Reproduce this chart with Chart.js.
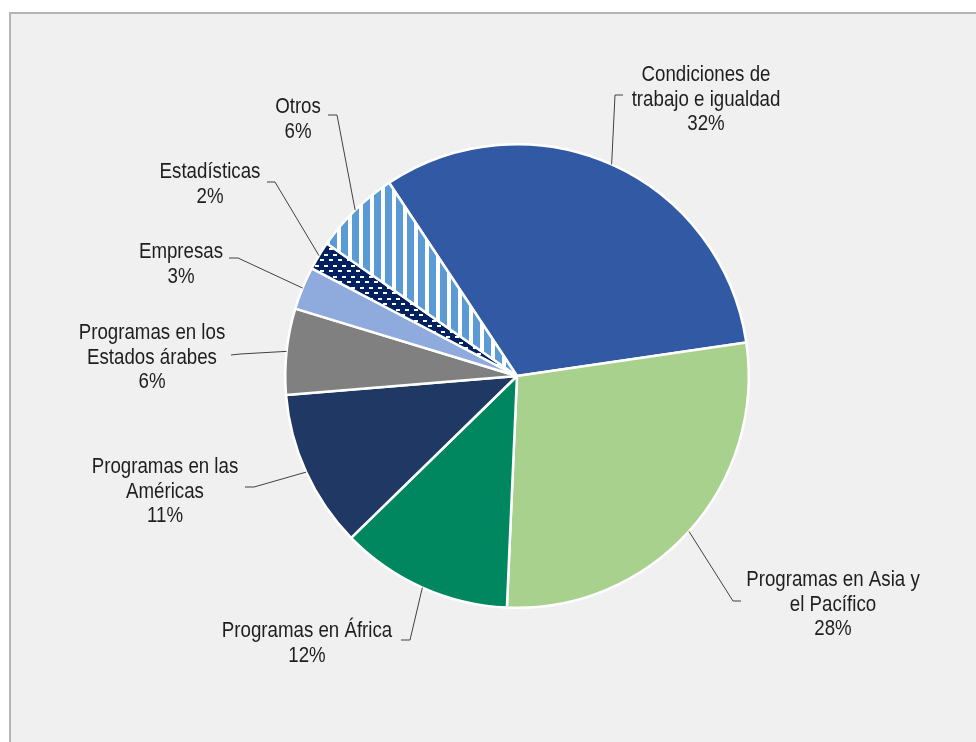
<!DOCTYPE html>
<html>
<head>
<meta charset="utf-8">
<script src="https://cdn.jsdelivr.net/npm/chart.js@4.4.1/dist/chart.umd.min.js"></script>
<style>
  html, body { margin: 0; padding: 0; background: #ffffff; overflow: hidden; }
  #marco {
    position: absolute; left: 9px; top: 12px; width: 1000px; height: 800px;
    background: #f0f0f0; border: 2px solid #b4b4b4;
  }
  #tarta { position: absolute; left: 0; top: 0; }
</style>
</head>
<body>
<div id="marco"></div>
<canvas id="tarta" width="976" height="742"></canvas>
<script>
// Distribución por área (porcentaje)
const categorias = [
  ["Condiciones de", "trabajo e igualdad"],
  ["Programas en Asia y", "el Pacífico"],
  ["Programas en África"],
  ["Programas en las", "Américas"],
  ["Programas en los", "Estados árabes"],
  ["Empresas"],
  ["Estadísticas"],
  ["Otros"],
];
const porcentajes = [32, 28, 12, 11, 6, 3, 2, 6];

const colores = ["#3259a4", "#a9d18e", "#00875f", "#1f3864", "#808080", "#8faadc", null, null];

// posición de cada etiqueta respecto al centro de la tarta: texto, codo y final de la línea guía
const etiquetas = [
  { tx: 189, ty: -301, codo: [98, -281], fin: [106, -281] },
  { tx: 316, ty: 204, codo: [216, 225], fin: [224, 225] },
  { tx: -210, ty: 255, codo: [-107, 264], fin: [-116, 264] },
  { tx: -352, ty: 91, codo: [-263, 111], fin: [-272, 111] },
  { tx: -365, ty: -43, codo: [-277, -22], fin: [-286, -21] },
  { tx: -336, ty: -124, codo: [-279, -118], fin: [-288, -118] },
  { tx: -307, ty: -204, codo: [-242, -194], fin: [-250, -194] },
  { tx: -219, ty: -269, codo: [-180, -261], fin: [-189, -261] },
];

// no hay Arial Narrow: se estrecha Liberation Sans en horizontal
const FUENTE = '22px "Liberation Sans", Arial, sans-serif';
const ESTRECHO = 0.85;

// trama de guiones blancos sobre azul marino (Estadísticas)
function tramaGuiones() {
  const c = document.createElement("canvas");
  c.width = 9; c.height = 11;
  const g = c.getContext("2d");
  g.fillStyle = "#002060";
  g.fillRect(0, 0, 9, 11);
  g.fillStyle = "#ffffff";
  g.fillRect(0, 1, 4, 2);
  g.fillRect(5, 6, 4, 2);
  return g.createPattern(c, "repeat");
}

// rayas verticales azules y blancas (Otros)
function tramaRayas() {
  const c = document.createElement("canvas");
  c.width = 11; c.height = 4;
  const g = c.getContext("2d");
  g.fillStyle = "#ffffff";
  g.fillRect(0, 0, 11, 4);
  g.fillStyle = "#5b9bd5";
  g.fillRect(0, 0, 7, 4);
  return g.createPattern(c, "repeat");
}

colores[6] = tramaGuiones();
colores[7] = tramaRayas();

const etiquetasPlugin = {
  id: "etiquetasGuia",
  afterDraw(chart) {
    const ctx = chart.ctx;
    const arcos = chart.getDatasetMeta(0).data;
    ctx.save();
    ctx.font = FUENTE;
    ctx.fillStyle = "#1e1e1e";
    ctx.textAlign = "center";
    ctx.textBaseline = "middle";
    ctx.strokeStyle = "#404040";
    ctx.lineWidth = 1;
    arcos.forEach((arco, i) => {
      const p = arco.getProps(["x", "y", "startAngle", "endAngle", "outerRadius"], true);
      const medio = (p.startAngle + p.endAngle) / 2;
      const e = etiquetas[i];
      ctx.beginPath();
      ctx.moveTo(p.x + p.outerRadius * Math.cos(medio), p.y + p.outerRadius * Math.sin(medio));
      ctx.lineTo(p.x + e.codo[0], p.y + e.codo[1]);
      ctx.lineTo(p.x + e.fin[0], p.y + e.fin[1]);
      ctx.stroke();
      const lineas = categorias[i].concat([porcentajes[i] + "%"]);
      lineas.forEach((t, j) => {
        ctx.save();
        ctx.translate(p.x + e.tx, p.y + e.ty + j * 24.7);
        ctx.scale(ESTRECHO, 1);
        ctx.fillText(t, 0, 0);
        ctx.restore();
      });
    });
    ctx.restore();
  },
};

new Chart(document.getElementById("tarta"), {
  type: "pie",
  data: {
    labels: categorias.map(c => c.join(" ")),
    datasets: [{
      data: porcentajes,
      backgroundColor: colores,
      borderColor: "#ffffff",
      borderWidth: 2.5,
    }],
  },
  options: {
    responsive: false,
    animation: false,
    rotation: -33.5,
    layout: { padding: { left: 284, right: 226, top: 143, bottom: 133 } },
    plugins: {
      legend: { display: false },
      tooltip: { enabled: false },
    },
  },
  plugins: [etiquetasPlugin],
});
</script>
</body>
</html>
